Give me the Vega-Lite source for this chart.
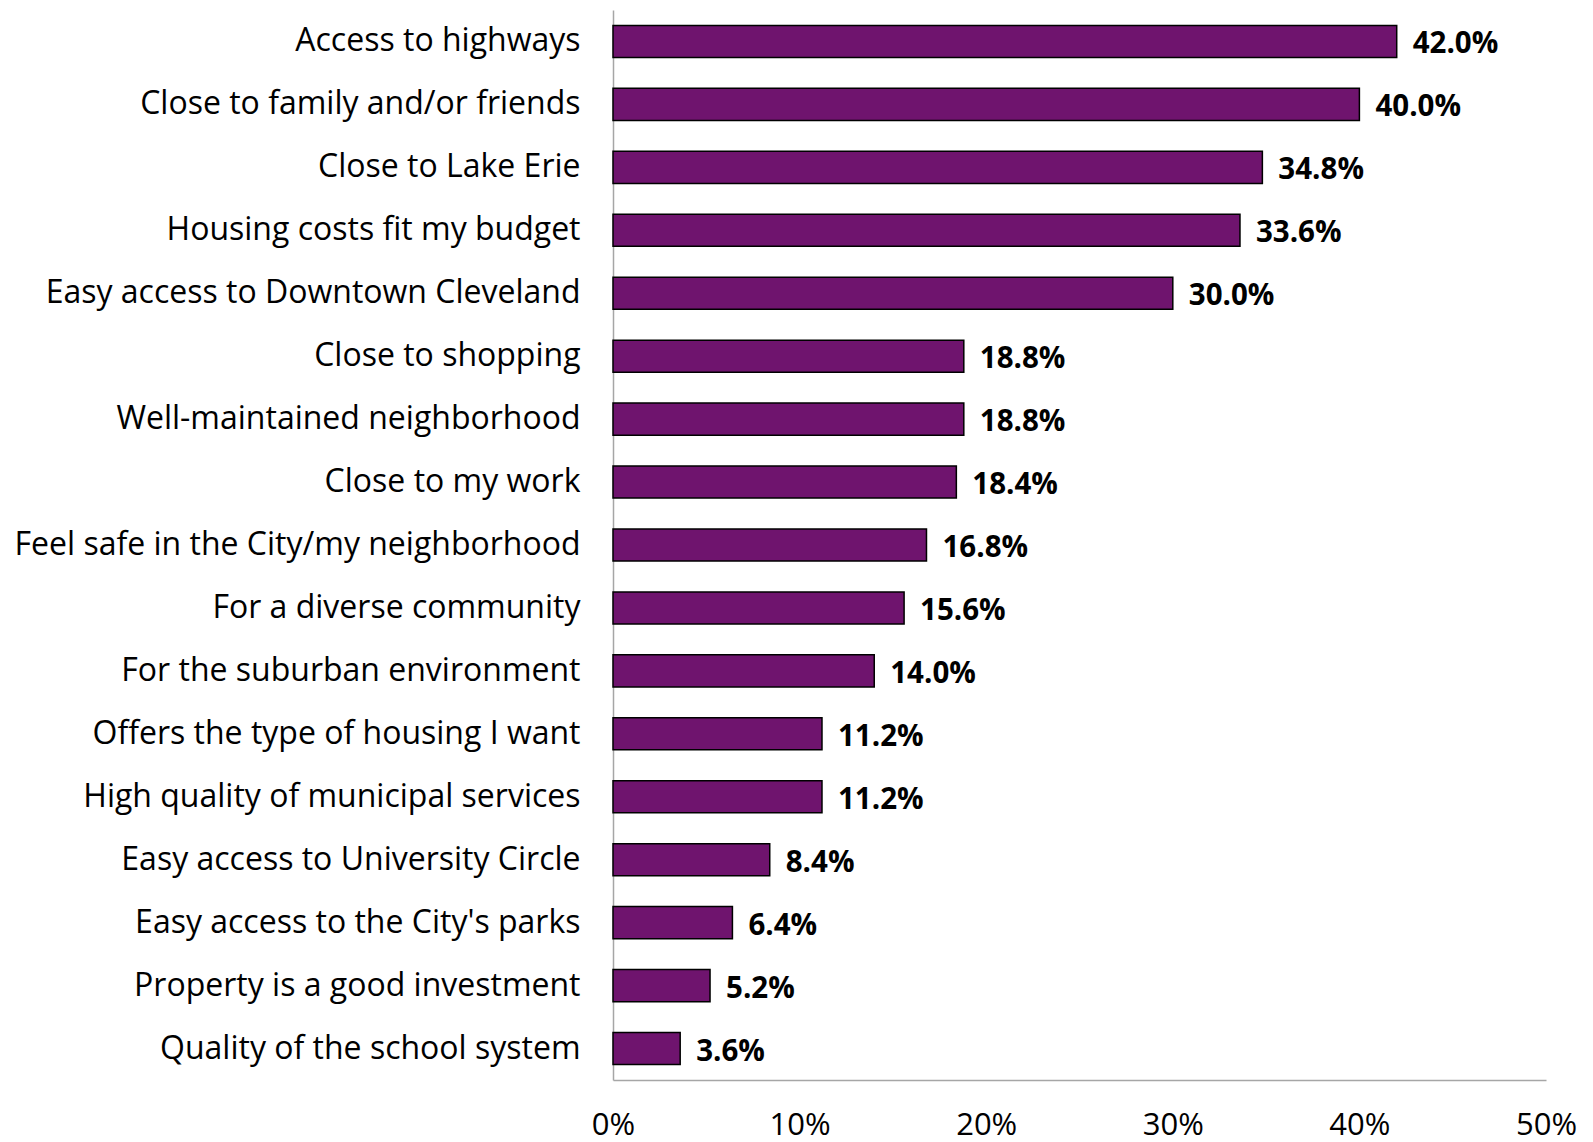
{
  "$schema": "https://vega.github.io/schema/vega-lite/v6.json",
  "autosize": "none",
  "width": 933,
  "height": 1070,
  "padding": {"left": 613, "top": 10, "right": 47, "bottom": 62},
  "background": "white",
  "config": {"view": {"stroke": null}, "font": "Open Sans"},
  "data": {"values": [
    {"reason": "Access to highways", "pct": 0.42},
    {"reason": "Close to family and/or friends", "pct": 0.40},
    {"reason": "Close to Lake Erie", "pct": 0.348},
    {"reason": "Housing costs fit my budget", "pct": 0.336},
    {"reason": "Easy access to Downtown Cleveland", "pct": 0.30},
    {"reason": "Close to shopping", "pct": 0.188},
    {"reason": "Well-maintained neighborhood", "pct": 0.188},
    {"reason": "Close to my work", "pct": 0.184},
    {"reason": "Feel safe in the City/my neighborhood", "pct": 0.168},
    {"reason": "For a diverse community", "pct": 0.156},
    {"reason": "For the suburban environment", "pct": 0.14},
    {"reason": "Offers the type of housing I want", "pct": 0.112},
    {"reason": "High quality of municipal services", "pct": 0.112},
    {"reason": "Easy access to University Circle", "pct": 0.084},
    {"reason": "Easy access to the City's parks", "pct": 0.064},
    {"reason": "Property is a good investment", "pct": 0.052},
    {"reason": "Quality of the school system", "pct": 0.036}
  ]},
  "encoding": {
    "y": {"field": "reason", "type": "nominal", "sort": null,
      "scale": {"paddingInner": 0.49, "paddingOuter": 0.245},
      "axis": {"title": null, "ticks": false, "domain": true, "domainColor": "#a6a6a6", "domainWidth": 1.5,
        "labelFontSize": 32, "labelColor": "#000000", "labelPadding": 33, "labelLimit": 800, "labelFont": "Open Sans"}},
    "x": {"field": "pct", "type": "quantitative",
      "scale": {"domain": [0, 0.5]},
      "axis": {"title": null, "format": ".0%", "values": [0, 0.1, 0.2, 0.3, 0.4, 0.5], "grid": false, "ticks": false,
        "labelOverlap": false, "labelBound": false, "labelBaseline": "alphabetic",
        "domainColor": "#a6a6a6", "domainWidth": 1.5, "labelFontSize": 31, "labelColor": "#000000", "labelPadding": 54, "labelFont": "Open Sans", "labelFlush": false}}
  },
  "layer": [
    {"mark": {"type": "bar", "color": "#6f146e", "stroke": "#000000", "strokeWidth": 1.5}},
    {"mark": {"type": "text", "align": "left", "baseline": "middle", "dx": 16, "dy": 3, "fontSize": 29.5, "fontWeight": "bold", "color": "#000000", "font": "Open Sans"},
      "encoding": {"text": {"field": "pct", "type": "quantitative", "format": ".1%"}}}
  ]
}
